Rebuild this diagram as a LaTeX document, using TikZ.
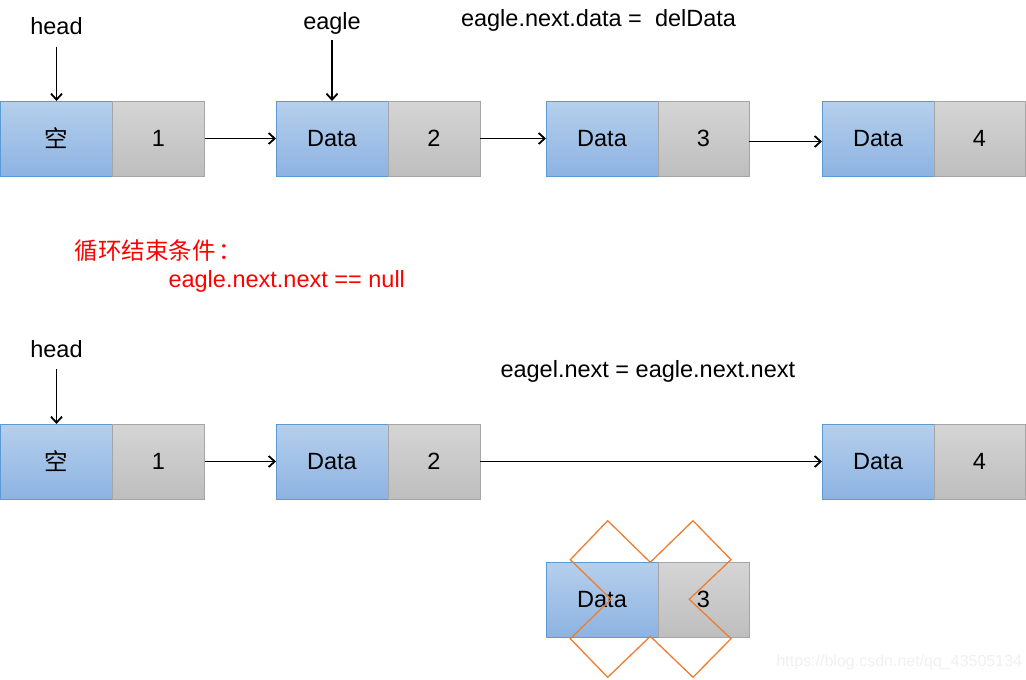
\documentclass[tikz,border=0pt]{standalone}
\usepackage{fontspec}
\setmainfont{Liberation Sans}
\newfontfamily\cjk{Noto Sans CJK SC}
\usetikzlibrary{arrows.meta}
\definecolor{bluetop}{HTML}{B6CFEC}
\definecolor{bluebot}{HTML}{8DB3E2}
\definecolor{bluebd}{HTML}{5B9BD5}
\definecolor{graytop}{HTML}{D5D5D5}
\definecolor{graybot}{HTML}{BEBEBE}
\definecolor{graybd}{HTML}{A5A5A5}
\definecolor{xorange}{HTML}{ED7D31}
\definecolor{wmgray}{HTML}{F0F0F0}
\begin{document}
\begin{tikzpicture}[x=1pt,y=-1pt,
  font=\fontsize{23.5}{28}\selectfont,
  cellb/.style={draw=bluebd, top color=bluetop, bottom color=bluebot,
    minimum width=112pt, minimum height=75pt, inner sep=0pt, outer sep=0pt,
    line width=1pt, anchor=north west},
  cellg/.style={draw=graybd, top color=graytop, bottom color=graybot,
    minimum width=92pt, minimum height=75pt, inner sep=0pt, outer sep=0pt,
    line width=1pt, anchor=north west},
  arr/.style={-{Straight Barb[length=6pt,width=11pt]}, line width=1.8pt},
  lbl/.style={anchor=base west},
  xmark/.style={draw=xorange, line width=1.3pt, line join=miter}]
\useasboundingbox (0,0) rectangle (1026,680);

% ---------- row 1 ----------
\node[cellb] (a1) at (0.5,101) {\cjk 空};
\node[cellg] (a1n) at (a1.north east) {1};
\node[cellb] (a2) at (276,101) {Data};
\node[cellg] (a2n) at (a2.north east) {2};
\node[cellb] (a3) at (546,101) {Data};
\node[cellg,minimum width=91pt] (a3n) at (a3.north east) {3};
\node[cellb] (a4) at (822,101) {Data};
\node[cellg,minimum width=91pt] (a4n) at (a4.north east) {4};

\draw[arr] (a1n.east) -- (a2.west);
\draw[arr] (a2n.east) -- (a3.west);
\draw[arr] ([yshift=-3pt]a3n.east) -- ([yshift=-3pt]a4.west);

\node[anchor=base] (h1) at (56.5,34.5) {head};
\draw[arr] ([yshift=-12pt]h1.base) -- (a1.north);
\node[anchor=base] (eg) at (332,29) {eagle};
\draw[arr] ([yshift=-11pt]eg.base) -- (a2.north);
\node[lbl] (t1) at (457.5,26) {eagle.next.data = \ delData};

% ---------- condition ----------
\node[lbl, text=red] (c1) at (71,259) {\cjk 循环结束条件\hspace{3pt}：};
\node[lbl, text=red] (c2) at (165,287.3) {eagle.next.next == null};

% ---------- row 2 ----------
\node[anchor=base] (h2) at (56.5,357.8) {head};
\node[lbl] (t2) at (497,377.3) {eagel.next = eagle.next.next};

\node[cellb] (b1) at (0.5,424) {\cjk 空};
\node[cellg] (b1n) at (b1.north east) {1};
\node[cellb] (b2) at (276,424) {Data};
\node[cellg] (b2n) at (b2.north east) {2};
\node[cellb] (b4) at (822,424) {Data};
\node[cellg,minimum width=91pt] (b4n) at (b4.north east) {4};

\draw[arr] ([yshift=-11pt]h2.base) -- (b1.north);
\draw[arr] (b1n.east) -- (b2.west);
\draw[arr] (b2n.east) -- (b4.west);

% ---------- deleted node ----------
\node[cellb] (d3) at (546,562) {Data};
\node[cellg,minimum width=91pt] (d3n) at (d3.north east) {3};
\draw[xmark] (607.7,520.7) -- (650.3,562.3) -- (693,520.7) -- (731,559.7)
  -- (689.3,599.3) -- (731,638.7) -- (693,677.3) -- (650.3,636.3)
  -- (607.7,677.3) -- (570.3,638.7) -- (611,599.3) -- (570.3,559.7) -- cycle;

% ---------- watermark ----------
\node[lbl, text=wmgray, font=\fontsize{16}{19}\selectfont] (wm) at (773,666) {https://blog.csdn.net/qq\_43505134};
\end{tikzpicture}
\end{document}
